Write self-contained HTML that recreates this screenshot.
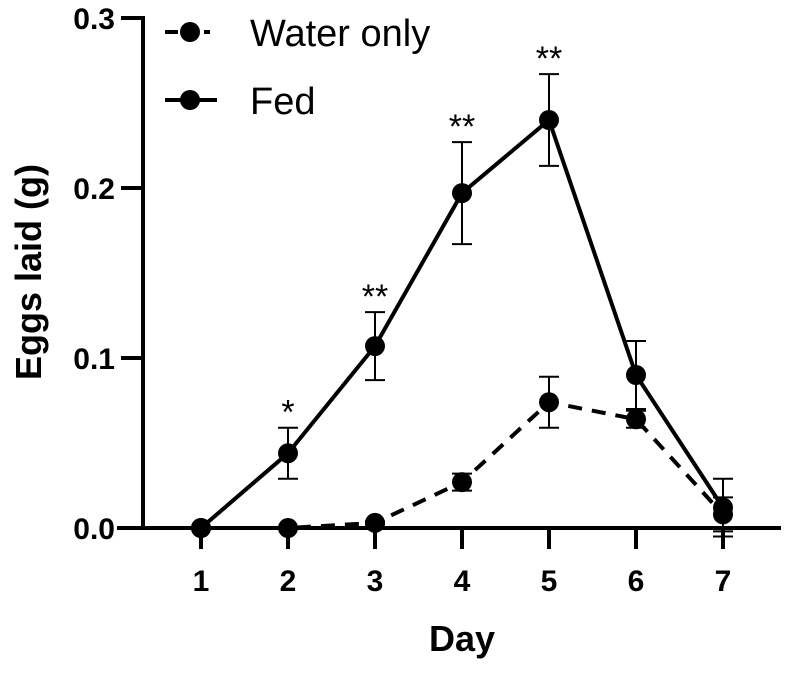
<!DOCTYPE html>
<html><head><meta charset="utf-8"><style>
html,body{margin:0;padding:0;background:#fff;}
svg text{font-family:"Liberation Sans",Arial,sans-serif;fill:#000;}
</style></head><body>
<svg id="chart" width="789" height="668" viewBox="0 0 789 668"></svg>
<script>
const days=[1,2,3,4,5,6,7];
const yTicks=[0,0.1,0.2,0.3];
const yTickLabels=["0.0","0.1","0.2","0.3"];
const fedMean=[0,0.044,0.107,0.197,0.240,0.090,0.012];
const fedErr=[0,0.015,0.020,0.030,0.027,0.020,0.017];
const waterMean=[0,0,0.003,0.027,0.074,0.064,0.008];
const waterErr=[0,0,0.001,0.005,0.015,0.005,0.010];
const stars=["","*","**","**","**","",""];

const NS="http://www.w3.org/2000/svg";
const svg=document.getElementById('chart');
const X=d=>201+(d-1)*87;
const Y=v=>528-v*1700;
function mk(t,a,p){const e=document.createElementNS(NS,t);for(const k in a)e.setAttribute(k,a[k]);(p||svg).appendChild(e);return e;}

let ya=mk('line',{x1:143,y1:16,x2:143,y2:528,stroke:'#000','stroke-width':4});


let xa=mk('line',{x1:117,y1:528,x2:781,y2:528,stroke:'#000','stroke-width':4});


yTicks.forEach((v,i)=>{
  let t=mk('line',{x1:121,y1:Y(v),x2:143,y2:Y(v),stroke:'#000','stroke-width':4});
  
  
  let l=mk('text',{x:115,y:Y(v)+11,'text-anchor':'end','font-size':30,'font-weight':'bold'});
  l.textContent=yTickLabels[i];
  
  
});
days.forEach(d=>{
  let t=mk('line',{x1:X(d),y1:528,x2:X(d),y2:549,stroke:'#000','stroke-width':4});
  
  
  let l=mk('text',{x:X(d),y:591,'text-anchor':'middle','font-size':30,'font-weight':'bold'});
  l.textContent=d;
  
  
});
let xt=mk('text',{x:462,y:651,'text-anchor':'middle','font-size':36,'font-weight':'bold'});
xt.textContent='Day';


let yt=mk('text',{x:0,y:0,'text-anchor':'middle','font-size':36,'font-weight':'bold',transform:'translate(41,272) rotate(-90)'});
yt.textContent='Eggs laid (g)';



function series(mean,err,dash,name){
  const g=mk('g',{});
  
  
  let pts=days.map((d,i)=>X(d)+','+Y(mean[i])).join(' ');
  let pl=mk('polyline',{points:pts,fill:'none',stroke:'#000','stroke-width':4,'stroke-dasharray':dash},g);
  
  
  days.forEach((d,i)=>{
    if(err[i]>0){
      const x=X(d),t=Y(mean[i]+err[i]),b=Y(mean[i]-err[i]);
      let e=mk('path',{d:`M${x},${t}V${b}M${x-10},${t}H${x+10}M${x-10},${b}H${x+10}`,stroke:'#000','stroke-width':2,fill:'none'},g);
      
      
    }
    let c=mk('circle',{cx:X(d),cy:Y(mean[i]),r:10,fill:'#000'},g);
    
    
  });
}
series(waterMean,waterErr,'14 10','water-only');
series(fedMean,fedErr,'none','fed');

days.forEach((d,i)=>{
  if(!stars[i])return;
  let s=mk('text',{x:X(d),y:Y(fedMean[i]+fedErr[i])-4,'text-anchor':'middle','font-size':34});
  s.textContent=stars[i];
  
  
});

const lg=mk('g',{});


let l1=mk('path',{d:'M165,32H178M204,32H210',stroke:'#000','stroke-width':4},lg);


let c1=mk('circle',{cx:190,cy:32,r:10,fill:'#000'},lg);


let t1=mk('text',{x:250,y:46,'font-size':38},lg);
t1.textContent='Water only';


let l2=mk('path',{d:'M165,100H217',stroke:'#000','stroke-width':4},lg);


let c2=mk('circle',{cx:190,cy:100,r:10,fill:'#000'},lg);


let t2=mk('text',{x:250,y:114,'font-size':38},lg);
t2.textContent='Fed';


</script>
</body></html>
